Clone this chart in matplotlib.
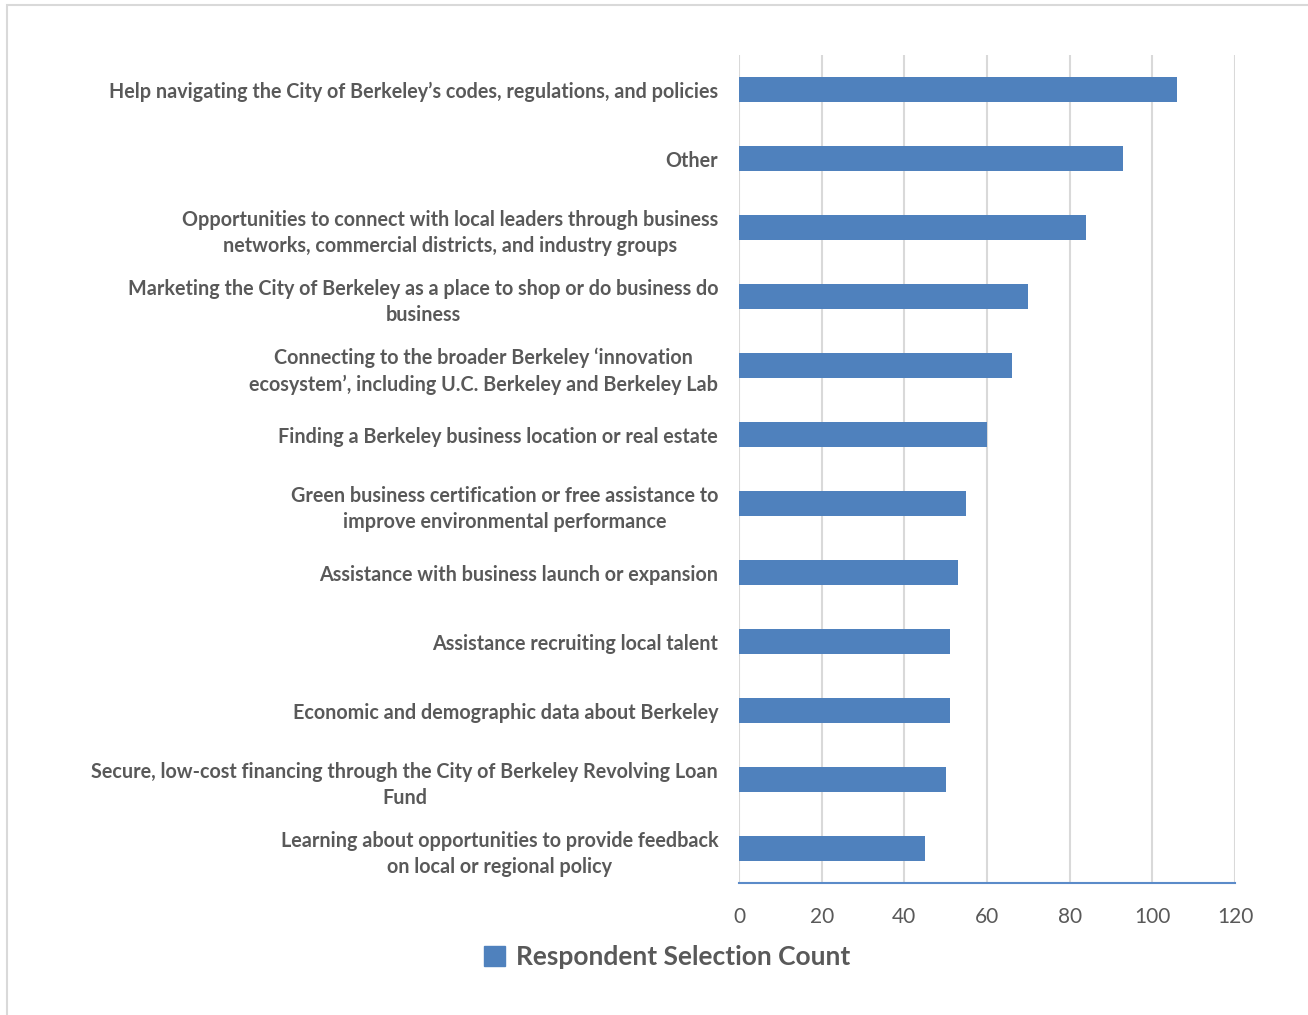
import matplotlib.pyplot as plt
from matplotlib import font_manager
from matplotlib.patches import Patch, Rectangle

categories = [
    "Help navigating the City of Berkeley\u2019s codes, regulations, and policies",
    "Other",
    "Opportunities to connect with local leaders through business\nnetworks, commercial districts, and industry groups",
    "Marketing the City of Berkeley as a place to shop or do business do\nbusiness",
    "Connecting to the broader Berkeley \u2018innovation\necosystem\u2019, including U.C. Berkeley and Berkeley Lab",
    "Finding a Berkeley business location or real estate",
    "Green business certification or free assistance to\nimprove environmental performance",
    "Assistance with business launch or expansion",
    "Assistance recruiting local talent",
    "Economic and demographic data about Berkeley",
    "Secure, low-cost financing through the City of Berkeley Revolving Loan\nFund",
    "Learning about opportunities to provide feedback\non local or regional policy",
]
counts = [106, 93, 84, 70, 66, 60, 55, 53, 51, 51, 50, 45]
xticks = [0, 20, 40, 60, 80, 100, 120]

bar_color = "#4f81bd"
text_color = "#595959"
grid_color = "#d9d9d9"

plt.rcParams["font.family"] = ["Lato", "DejaVu Sans"]

# pick the Lato Bold file directly so the weight is predictable
lato_files = [f for f in font_manager.findSystemFonts() if "lato" in f.lower()]
bold_file = next((f for f in lato_files if f.lower().endswith("lato-bold.ttf")), None)
if bold_file:
    label_font = font_manager.FontProperties(fname=bold_file, size=14.2)
    legend_font = font_manager.FontProperties(fname=bold_file, size=19)
else:
    label_font = font_manager.FontProperties(family="Lato", weight="bold", size=14.2)
    legend_font = font_manager.FontProperties(family="Lato", weight="bold", size=19)

fig = plt.figure(figsize=(13.08, 10.15), dpi=100)
# light grey frame, cut off at the right and bottom as in the source
fig.patches.append(Rectangle((7 / 1308, -0.1), 1.2, 1.1 - 5 / 1015, transform=fig.transFigure,
                             fill=False, edgecolor=grid_color, linewidth=1.5))

ax = fig.add_axes([739 / 1308, 1 - 883 / 1015, (1235 - 739) / 1308, (883 - 55) / 1015])
y = list(range(len(categories)))
ax.barh(y, counts, height=0.35, color=bar_color, zorder=3)
ax.set_ylim(len(categories) - 0.5, -0.5)
ax.set_xlim(0, 120)
ax.set_xticks(xticks)
ax.set_xticklabels([str(t) for t in xticks], fontsize=15, color=text_color)
ax.set_yticks(y)
ax.set_yticklabels(categories, fontproperties=label_font, color=text_color,
                   multialignment="center", linespacing=1.42)
ax.tick_params(axis="both", length=0)
ax.tick_params(axis="y", pad=15)
ax.tick_params(axis="x", pad=17)
ax.grid(axis="x", color=grid_color, linewidth=1.5, zorder=0)
for s in ["top", "right", "left"]:
    ax.spines[s].set_visible(False)
ax.spines["bottom"].set_color("#5b8bc9")
ax.spines["bottom"].set_linewidth(1.5)

fig.legend(handles=[Patch(color=bar_color, label="Respondent Selection Count")],
           loc="center", bbox_to_anchor=(667 / 1308, 1 - 957 / 1015), frameon=False,
           prop=legend_font, labelcolor=text_color,
           handlelength=0.8, handleheight=0.8, handletextpad=0.4)

fig.savefig("out.png", dpi=100)
